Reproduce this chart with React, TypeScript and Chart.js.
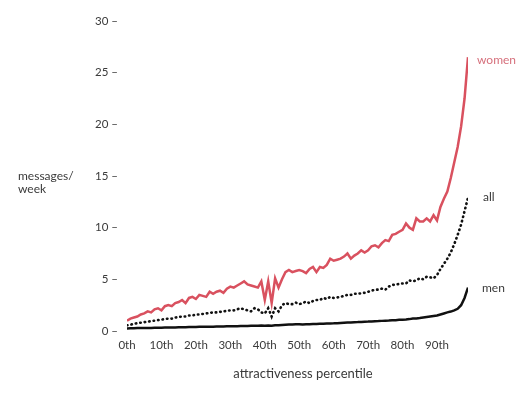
import React, { useEffect, useRef } from "react";
import { Chart, registerables } from "chart.js";

Chart.register(...registerables);

const percentiles: number[] = Array.from({ length: 100 }, (_, i) => i);

const women: number[] = [
  1.0, 1.2, 1.3, 1.4, 1.6, 1.7, 1.9, 1.8, 2.1, 2.2,
  2.0, 2.4, 2.5, 2.4, 2.7, 2.8, 3.0, 2.7, 3.2, 3.3,
  3.1, 3.5, 3.4, 3.3, 3.8, 3.6, 3.8, 3.9, 3.7, 4.1,
  4.3, 4.2, 4.4, 4.6, 4.8, 4.5, 4.4, 4.3, 4.2, 4.8,
  3.0, 4.8, 2.7, 5.1, 4.2, 5.0, 5.7, 5.9, 5.7, 5.8,
  5.9, 5.8, 5.6, 6.0, 6.2, 5.7, 6.2, 6.1, 6.4, 7.0,
  6.8, 6.9, 7.0, 7.2, 7.5, 7.0, 7.3, 7.5, 7.8, 7.6,
  7.8, 8.2, 8.3, 8.1, 8.5, 8.8, 8.7, 9.3, 9.4, 9.6,
  9.8, 10.4, 10.0, 9.8, 10.9, 10.6, 10.6, 10.9, 10.6, 11.2,
  10.7, 12.0, 12.8, 13.5, 14.8, 16.3, 17.8, 19.8, 22.5, 26.5,
];

const all: number[] = [
  0.55, 0.6, 0.7, 0.75, 0.8, 0.85, 0.9, 0.95, 1.0, 1.05,
  1.1, 1.15, 1.2, 1.2, 1.3, 1.35, 1.4, 1.4, 1.5, 1.5,
  1.6, 1.6, 1.65, 1.7, 1.75, 1.8, 1.8, 1.85, 1.9, 1.95,
  2.0, 2.0, 2.1, 2.2, 2.1, 2.0, 1.9, 2.2, 2.1, 1.8,
  1.7, 2.2, 1.4, 2.2, 1.9, 2.5, 2.7, 2.6, 2.6, 2.75,
  2.6, 2.7, 2.85, 2.7, 2.9, 3.0, 3.0, 3.2, 3.1, 3.3,
  3.2, 3.25, 3.3, 3.4, 3.5, 3.5, 3.6, 3.6, 3.65, 3.7,
  3.8, 3.9, 4.0, 4.0, 4.1, 4.0, 4.3, 4.45, 4.5, 4.55,
  4.6, 4.6, 4.9, 4.8, 4.9, 5.1, 5.0, 5.25, 5.2, 5.1,
  5.4, 6.0, 6.5, 7.0, 7.6, 8.4, 9.3, 10.3, 11.6, 12.9,
];

const men: number[] = [
  0.25, 0.26, 0.27, 0.28, 0.28, 0.29, 0.3, 0.3, 0.31, 0.32,
  0.32, 0.33, 0.34, 0.34, 0.35, 0.36, 0.36, 0.37, 0.38, 0.38,
  0.39, 0.4, 0.4, 0.41, 0.42, 0.42, 0.43, 0.44, 0.44, 0.45,
  0.46, 0.46, 0.47, 0.48, 0.48, 0.49, 0.5, 0.51, 0.52, 0.53,
  0.52, 0.54, 0.5, 0.55, 0.56, 0.58, 0.6, 0.62, 0.63, 0.65,
  0.66, 0.64, 0.65, 0.66, 0.67, 0.68, 0.69, 0.7, 0.72, 0.73,
  0.74, 0.76, 0.78, 0.8, 0.82, 0.83, 0.85, 0.86, 0.88, 0.9,
  0.91, 0.93, 0.95, 0.96, 0.98, 1.0, 1.01, 1.03, 1.05, 1.08,
  1.1, 1.12, 1.15, 1.2, 1.22, 1.25, 1.3, 1.35, 1.4, 1.45,
  1.5, 1.6, 1.7, 1.8, 1.88, 2.0, 2.15, 2.5, 3.2, 4.2,
];

const seriesNames: string[] = ["women", "all", "men"];
const yTicks: number[] = [0, 5, 10, 15, 20, 25, 30];
const xTickValues: number[] = [0, 10, 20, 30, 40, 50, 60, 70, 80, 90];
const yTitleLines: string[] = ["messages/", "week"];
const xTitle = "attractiveness percentile";

const FONT = "Lato, 'Noto Sans', sans-serif";
const WOMEN_COLOR = "#d9515f";
const WOMEN_TEXT = "#d6707c";
const TEXT = "#3a3a3a";

export default function App() {
  const ref = useRef<HTMLCanvasElement | null>(null);

  useEffect(() => {
    if (!ref.current) return;
    const labelOffsets: Record<string, [number, number]> = {
      women: [9, 3],
      all: [15, -1],
      men: [14, 1],
    };
    const textPlugin = {
      id: "texts",
      afterDraw(chart: any) {
        const ctx = chart.ctx;
        const xs = chart.scales.x;
        const ys = chart.scales.y;
        ctx.save();
        ctx.font = `12px ${FONT}`;
        ctx.fillStyle = TEXT;
        ctx.textAlign = "left";
        ctx.textBaseline = "middle";
        ctx.fillText(yTitleLines[0], 18, 176);
        ctx.fillText(yTitleLines[1], 18, 189);
        ctx.font = `13px ${FONT}`;
        ctx.textAlign = "center";
        ctx.fillText(xTitle, 303, 374);
        ctx.font = `12px ${FONT}`;
        ctx.textAlign = "left";
        chart.data.datasets.forEach((ds: any) => {
          const last = ds.data.length - 1;
          const off = labelOffsets[ds.label];
          const px = xs.getPixelForValue(percentiles[last]) + off[0];
          const py = ys.getPixelForValue(ds.data[last]) + off[1];
          ctx.fillStyle = ds.label === "women" ? WOMEN_TEXT : TEXT;
          ctx.fillText(ds.label, px, py);
        });
        ctx.restore();
      },
    };

    const chart = new Chart(ref.current, {
      type: "line",
      data: {
        labels: percentiles,
        datasets: [
          {
            label: seriesNames[0],
            data: women,
            borderColor: WOMEN_COLOR,
            borderWidth: 2.5,
            pointRadius: 0,
            tension: 0,
          },
          {
            label: seriesNames[1],
            data: all,
            borderColor: "#111",
            borderWidth: 2.6,
            borderDash: [0.5, 4],
            borderCapStyle: "round",
            pointRadius: 0,
            tension: 0,
          },
          {
            label: seriesNames[2],
            data: men,
            borderColor: "#111",
            borderWidth: 2.5,
            pointRadius: 0,
            tension: 0,
          },
        ],
      },
      options: {
        animation: false,
        responsive: true,
        maintainAspectRatio: false,
        layout: { padding: { left: 0, right: 60, top: 21, bottom: 0 } },
        plugins: {
          legend: { display: false },
          tooltip: { enabled: false },
        },
        scales: {
          x: {
            type: "linear",
            min: 0,
            max: 99,
            grid: { display: false, drawTicks: false },
            border: { display: false },
            afterFit: (s: any) => {
              s.height = 62;
            },
            afterBuildTicks: (s: any) => {
              s.ticks = xTickValues.map((v) => ({ value: v }));
            },
            ticks: {
              autoSkip: false,
              maxRotation: 0,
              padding: 7,
              color: TEXT,
              font: { family: FONT, size: 11.5 },
              callback: (v: any) => `${v}th`,
            },
          },
          y: {
            min: 0,
            max: 30,
            grid: { display: false, drawTicks: false },
            border: { display: false },
            afterFit: (s: any) => {
              s.width = 127;
            },
            afterBuildTicks: (s: any) => {
              s.ticks = yTicks.map((v) => ({ value: v }));
            },
            ticks: {
              padding: 9,
              color: TEXT,
              font: { family: FONT, size: 11.5 },
              callback: (v: any) => `${v} –`,
            },
          },
        },
      },
      plugins: [textPlugin],
    });
    return () => chart.destroy();
  }, []);

  return (
    <div
      style={{
        position: "absolute",
        left: 0,
        top: 0,
        width: 528,
        height: 393,
        background: "#fff",
      }}
    >
      <canvas ref={ref} />
    </div>
  );
}
